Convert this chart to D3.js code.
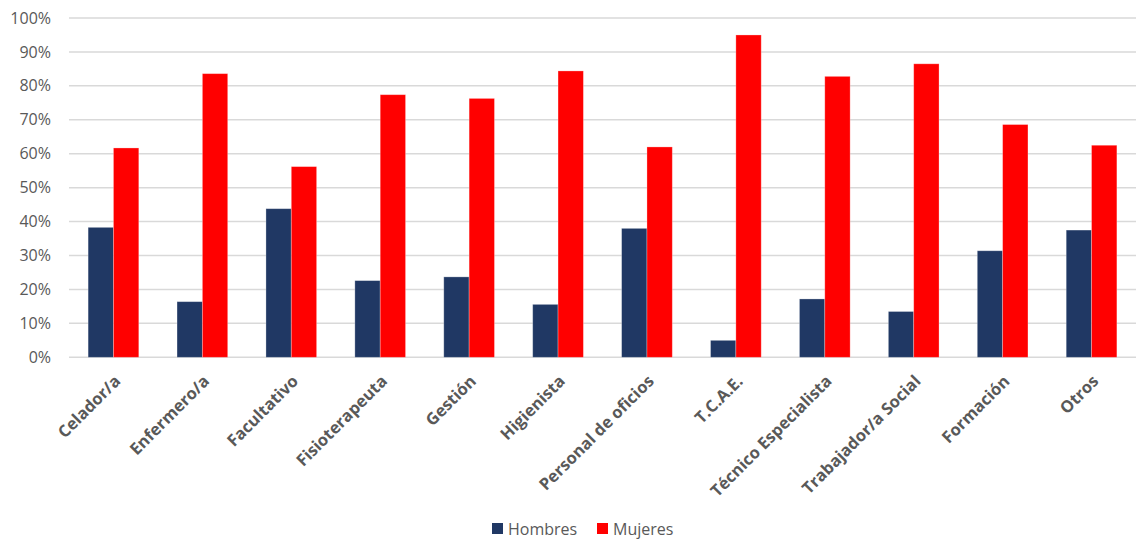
<!DOCTYPE html>
<html>
<head>
<meta charset="utf-8">
<script src="https://cdn.jsdelivr.net/npm/d3@7"></script>
<style>
  body { margin: 0; background: #fff; }
  text { font-family: "Open Sans", "Noto Sans", sans-serif; }
</style>
</head>
<body>
<svg width="1136" height="541"></svg>
<script>
var categories = ["Celador/a", "Enfermero/a", "Facultativo", "Fisioterapeuta", "Gestión", "Higienista",
  "Personal de oficios", "T.C.A.E.", "Técnico Especialista", "Trabajador/a Social", "Formación", "Otros"];
var hombres = [38.3, 16.4, 43.8, 22.6, 23.7, 15.6, 38.0, 5.0, 17.2, 13.5, 31.4, 37.5];
var mujeres = [61.7, 83.6, 56.2, 77.4, 76.3, 84.4, 62.0, 95.0, 82.8, 86.5, 68.6, 62.5];
var seriesNames = ["Hombres", "Mujeres"];
var colors = ["#203864", "#ff0000"];
var yTicks = [0, 10, 20, 30, 40, 50, 60, 70, 80, 90, 100];

var svg = d3.select("svg");
var margin = {left: 69, right: 0, top: 18, bottom: 184};
var width = +svg.attr("width");
var height = +svg.attr("height");

var x = d3.scaleBand().domain(categories).range([margin.left, width - margin.right]).padding(0);
var y = d3.scaleLinear().domain([0, 100]).range([height - margin.bottom + 0.3, margin.top]);
var barW = x.bandwidth() * 0.285;

// gridlines
svg.append("g").selectAll("line")
  .data(yTicks)
  .enter().append("line")
    .attr("x1", margin.left).attr("x2", width)
    .attr("y1", function(d) { return y(d); }).attr("y2", function(d) { return y(d); })
    .attr("stroke", "#d9d9d9").attr("stroke-width", 1.5);

// y labels
svg.append("g").selectAll("text")
  .data(yTicks)
  .enter().append("text")
    .attr("x", 51).attr("y", function(d) { return y(d); })
    .attr("dy", "0.35em")
    .attr("text-anchor", "end")
    .attr("fill", "#595959")
    .style("font-size", "16px")
    .text(function(d) { return d + "%"; });

// bars
var series = [hombres, mujeres];
series.forEach(function(vals, s) {
  svg.append("g").selectAll("rect")
    .data(vals)
    .enter().append("rect")
      .attr("x", function(d, i) { return x(categories[i]) + x.bandwidth() / 2 + (s - 1) * barW; })
      .attr("y", function(d) { return y(d); })
      .attr("width", barW)
      .attr("height", function(d) { return y(0) - y(d); })
      .attr("fill", colors[s])
      .attr("stroke", "#ffffff")
      .attr("stroke-opacity", 0.35)
      .attr("stroke-width", 0.8);
});

// x labels
svg.append("g").selectAll("text")
  .data(categories)
  .enter().append("text")
    .attr("text-anchor", "end")
    .attr("fill", "#595959")
    .style("font-size", "16.5px")
    .style("font-weight", "bold")
    .attr("transform", function(d) {
      return "translate(" + (x(d) + x.bandwidth() / 2 + 8) + "," + (y(0) + 25) + ") rotate(-45)";
    })
    .text(function(d) { return d; });

// legend
var legend = svg.append("g");
var lx = [492, 597];
seriesNames.forEach(function(name, i) {
  legend.append("rect")
    .attr("x", lx[i]).attr("y", 523)
    .attr("width", 11).attr("height", 11)
    .attr("fill", colors[i]);
  legend.append("text")
    .attr("x", lx[i] + 16).attr("y", 534.5)
    .attr("fill", "#595959")
    .style("font-size", "16px")
    .text(name);
});
</script>
</body>
</html>
